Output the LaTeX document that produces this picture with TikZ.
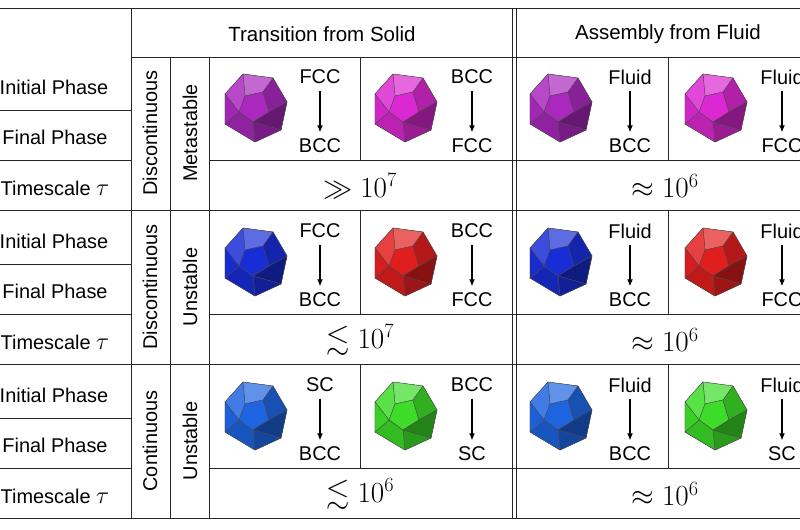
\documentclass[tikz,border=0pt]{standalone}
\usepackage{fontspec}
\setmainfont{Liberation Sans}
\usepackage{amssymb}
\usetikzlibrary{arrows.meta}
\begin{document}
\begin{tikzpicture}[x=0.03cm,y=-0.03cm,
  grid/.style={line width=0.7pt,black!85},
  lbl/.style={font=\fontsize{17}{20}\selectfont},
  hdr/.style={font=\fontsize{17.5}{21}\selectfont},
  big/.style={font=\fontsize{26}{30}\selectfont},
  arr/.style={-{Latex[length=6pt,width=5pt]},line width=1.4pt,shorten <=2pt,shorten >=2pt},
  poly/.pic={
    \coordinate (O1) at (-30,-14); \coordinate (O2) at (-12,-34); \coordinate (O3) at (18,-30);
    \coordinate (O4) at (32,-6); \coordinate (O5) at (26,22); \coordinate (O6) at (0,34); \coordinate (O7) at (-30,16);
    \coordinate (I1) at (-10,-12); \coordinate (I2) at (8,-16); \coordinate (I3) at (14,4); \coordinate (I4) at (-2,14); \coordinate (I5) at (-16,4);
    \begin{scope}[draw=black!70,line width=0.3pt]
    \filldraw[fill=pc!75!black] (O1)--(O2)--(O3)--(O4)--(O5)--(O6)--(O7)--cycle;
    \filldraw[fill=pc!70!white] (O2)--(O3)--(I2)--(I1)--cycle;
    \filldraw[fill=pc!85!white] (O1)--(O2)--(I1)--(I5)--cycle;
    \filldraw[fill=pc] (I1)--(I2)--(I3)--(I4)--(I5)--cycle;
    \filldraw[fill=pc!80!black] (O3)--(O4)--(I3)--(I2)--cycle;
    \filldraw[fill=pc!60!black] (O4)--(O5)--(I4)--(I3)--cycle;
    \filldraw[fill=pc!70!black] (O5)--(O6)--(I4)--cycle;
    \filldraw[fill=pc!85!black] (O6)--(O7)--(I5)--(I4)--cycle;
    \filldraw[fill=pc!95!black] (O7)--(O1)--(I5)--cycle;
    \end{scope}
  }]
\useasboundingbox (0,0) rectangle (800,530);
\clip (0,0) rectangle (800,530);
\definecolor{cpurple}{RGB}{170,40,190}
\definecolor{cmag}{RGB}{220,40,210}
\definecolor{cblue}{RGB}{25,45,215}
\definecolor{cred}{RGB}{225,30,30}
\definecolor{clblue}{RGB}{30,100,225}
\definecolor{cgreen}{RGB}{60,220,40}
\draw[grid] (0,8) -- (800,8);
\draw[grid] (131,8) -- (131,518);
\draw[grid] (131,57) -- (800,57);
\draw[grid] (512,8) -- (512,518);
\draw[grid] (516,8) -- (516,518);
\node[hdr] (h1) at (322,34) {Transition from Solid};
\node[hdr] (h2) at (668,34) {Assembly from Fluid};
\draw[grid] (0,518) -- (800,518);
\foreach \b/\cl/\cr/\tl/\tr/\ta/\tb/\disc/\stab/\ca/\cb/\cc/\cd in {
  0/{$\gg 10^7$}/{$\approx 10^6$}/FCC/BCC/BCC/FCC/Discontinuous/Metastable/cpurple/cmag/cpurple/cmag,
  154/{$\lesssim 10^7$}/{$\approx 10^6$}/FCC/BCC/BCC/FCC/Discontinuous/Unstable/cblue/cred/cblue/cred,
  308/{$\lesssim 10^6$}/{$\approx 10^6$}/SC/BCC/BCC/SC/Continuous/Unstable/clblue/cgreen/clblue/cgreen}{
  \draw[grid] (0,57+\b+53) -- (131,57+\b+53);
  \draw[grid] (0,57+\b+103) -- (131,57+\b+103);
  \draw[grid] (209,57+\b+103) -- (800,57+\b+103);
  \draw[grid] (0,57+\b+153) -- (800,57+\b+153);
  \draw[grid] (170,57+\b) -- (170,57+\b+153);
  \draw[grid] (209,57+\b) -- (209,57+\b+153);
  \draw[grid] (360,57+\b) -- (360,57+\b+103);
  \draw[grid] (668,57+\b) -- (668,57+\b+103);
  \node[lbl] at (54,87+\b) {Initial Phase};
  \node[lbl] at (55,137+\b) {Final Phase};
  \node[lbl] at (55,188+\b) {Timescale \fontsize{21}{24}\selectfont$\tau$};
  \node[lbl,rotate=90] at (150,133+\b) {\disc};
  \node[lbl,rotate=90] at (190,133+\b) {\stab};
  \node[big] at (360,186+\b) {\cl};
  \node[big] at (665,186+\b) {\cr};
  \colorlet{pc}{\ca}\pic at (255,108+\b) {poly};
  \colorlet{pc}{\cb}\pic at (405,108+\b) {poly};
  \colorlet{pc}{\cc}\pic at (560,108+\b) {poly};
  \colorlet{pc}{\cd}\pic at (715,108+\b) {poly};
  \node[lbl] (a1) at (320,77+\b) {\tl};
  \node[lbl] (b1) at (320,146+\b) {\ta};
  \draw[arr] (a1) -- (b1);
  \node[lbl] (a2) at (472,77+\b) {\tr};
  \node[lbl] (b2) at (472,146+\b) {\tb};
  \draw[arr] (a2) -- (b2);
  \node[lbl] (a3) at (630,77+\b) {Fluid};
  \node[lbl] (b3) at (630,146+\b) {BCC};
  \draw[arr] (a3) -- (b3);
  \node[lbl] (a4) at (782,77+\b) {Fluid};
  \node[lbl] (b4) at (782,146+\b) {\tb};
  \draw[arr] (a4) -- (b4);
}
\end{tikzpicture}
\end{document}
